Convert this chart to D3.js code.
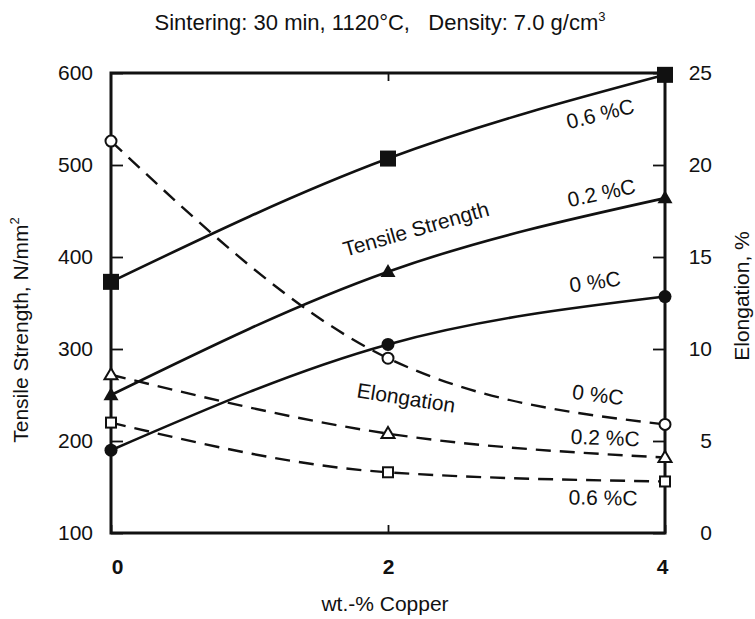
<!DOCTYPE html>
<html>
<head>
<meta charset="utf-8">
<script src="https://cdn.jsdelivr.net/npm/d3@7"></script>
<style>
  html, body { margin: 0; padding: 0; background: #fff; }
  svg { display: block; font-family: "Liberation Sans", Arial, Helvetica, sans-serif; }
  text { fill: #111; }
</style>
</head>
<body>
<svg id="chart" width="755" height="619"></svg>
<script>
// Copper content (wt.-%) on the x axis
const copper = [0, 2, 4];

// Tensile strength, N/mm² (solid lines, filled markers)
const tensile0C  = [190, 305, 357];
const tensile02C = [250, 384, 464];
const tensile06C = [373, 507, 598];

// Elongation, % (dashed lines, open markers)
const elong0C  = [21.3, 9.5, 5.9];
const elong02C = [8.6, 5.4, 4.1];
const elong06C = [6.0, 3.3, 2.8];

// Axis tick values
const strengthTicks = [100, 200, 300, 400, 500, 600];
const elongTicks = [0, 5, 10, 15, 20, 25];
const copperTicks = [0, 2, 4];

const svg = d3.select("#chart");
const plot = { left: 111, right: 665, top: 73, bottom: 533 };

const x  = d3.scaleLinear().domain([0, 4]).range([plot.left, plot.right]);
const yL = d3.scaleLinear().domain([100, 600]).range([plot.bottom, plot.top]);
const yR = d3.scaleLinear().domain([0, 25]).range([plot.bottom, plot.top]);

const ink = "#111";
const fontFamily = "\"Liberation Sans\", Arial, sans-serif";

// Title
const title = svg.append("text")
  .attr("x", 380).attr("y", 30)
  .attr("text-anchor", "middle")
  .style("font-size", "22px");
title.append("tspan").text("Sintering: 30 min, 1120°C,\u00a0\u00a0\u00a0Density: 7.0 g/cm");
title.append("tspan").attr("dy", -9).style("font-size", "13px").text("3");

// Axes (ticks point inward, frame drawn separately)
const leftAxis = d3.axisLeft(yL).tickValues(strengthTicks).tickSize(-12).tickPadding(18).tickFormat(d3.format("d"));
const gL = svg.append("g").attr("transform", `translate(${plot.left},0)`).call(leftAxis);

const rightAxis = d3.axisRight(yR).tickValues(elongTicks).tickSize(-12).tickPadding(47).tickFormat(d3.format("d"));
const gR = svg.append("g").attr("transform", `translate(${plot.right},0)`).call(rightAxis);
gR.selectAll("text").attr("text-anchor", "end");

const bottomAxis = d3.axisBottom(x).tickValues(copperTicks).tickSize(-8).tickPadding(26).tickFormat(d3.format("d"));
const gB = svg.append("g").attr("transform", `translate(0,${plot.bottom})`).call(bottomAxis);
gB.selectAll("text").style("font-weight", "bold")
  .attr("dx", d => d === 0 ? 6 : d === 4 ? -3 : 0);

const topAxis = d3.axisTop(x).tickValues([2]).tickSize(-8).tickFormat(() => "");
const gT = svg.append("g").attr("transform", `translate(0,${plot.top})`).call(topAxis);

[gL, gR, gB, gT].forEach(g => {
  g.select(".domain").remove();
  g.selectAll(".tick line").attr("stroke", ink).attr("stroke-width", 1.8);
  g.selectAll(".tick text").attr("fill", ink).style("font-size", "21px").style("font-family", fontFamily);
});

// Plot frame
svg.append("rect")
  .attr("x", plot.left).attr("y", plot.top)
  .attr("width", plot.right - plot.left).attr("height", plot.bottom - plot.top)
  .attr("fill", "none").attr("stroke", ink).attr("stroke-width", 3);

// Axis titles
const yTitle = svg.append("text")
  .attr("transform", `translate(28,330) rotate(-90)`)
  .attr("text-anchor", "middle")
  .style("font-size", "21px");
yTitle.append("tspan").text("Tensile Strength,  N/mm");
yTitle.append("tspan").attr("dy", -9).style("font-size", "13px").text("2");

svg.append("text")
  .attr("transform", `translate(749,296) rotate(-90)`)
  .attr("text-anchor", "middle")
  .style("font-size", "21px")
  .text("Elongation, %");

svg.append("text")
  .attr("x", 385).attr("y", 611)
  .attr("text-anchor", "middle")
  .style("font-size", "21px")
  .text("wt.-% Copper");

// Series: strength curves as natural splines, elongation curves monotone
const lineL = d3.line().x((d, i) => x(copper[i])).y(d => yL(d)).curve(d3.curveNatural);
const lineR = d3.line().x((d, i) => x(copper[i])).y(d => yR(d)).curve(d3.curveMonotoneX);

const strengthSeries = [
  { values: tensile06C, marker: "square" },
  { values: tensile02C, marker: "triangle" },
  { values: tensile0C,  marker: "circle" }
];
const elongSeries = [
  { values: elong0C,  marker: "circle" },
  { values: elong02C, marker: "triangle" },
  { values: elong06C, marker: "square" }
];

elongSeries.forEach(s => {
  svg.append("path").attr("d", lineR(s.values))
    .attr("fill", "none").attr("stroke", ink).attr("stroke-width", 2.4)
    .attr("stroke-dasharray", "15,9");
});
strengthSeries.forEach(s => {
  svg.append("path").attr("d", lineL(s.values))
    .attr("fill", "none").attr("stroke", ink).attr("stroke-width", 2.6);
});

function drawMarker(type, cx, cy, filled) {
  const g = svg.append("g").attr("transform", `translate(${cx},${cy})`);
  const fill = filled ? ink : "#fff";
  const sw = filled ? 0 : 2;
  if (type === "square") {
    const s = filled ? 16 : 10;
    g.append("rect").attr("x", -s / 2).attr("y", -s / 2).attr("width", s).attr("height", s)
      .attr("fill", fill).attr("stroke", ink).attr("stroke-width", sw);
  } else if (type === "triangle") {
    const w = filled ? 15 : 13, h = filled ? 13 : 11;
    g.append("path").attr("d", `M0,${-h * 0.6}L${w / 2},${h * 0.4}L${-w / 2},${h * 0.4}Z`)
      .attr("fill", fill).attr("stroke", ink).attr("stroke-width", sw);
  } else {
    const r = filled ? 6.5 : 5.5;
    g.append("circle").attr("r", r)
      .attr("fill", fill).attr("stroke", ink).attr("stroke-width", sw);
  }
}

elongSeries.forEach(s => s.values.forEach((v, i) => drawMarker(s.marker, x(copper[i]), yR(v), false)));
strengthSeries.forEach(s => s.values.forEach((v, i) => drawMarker(s.marker, x(copper[i]), yL(v), true)));

// In-plot annotations
const notes = [
  { t: "Tensile Strength", x: 418, y: 236, r: -16 },
  { t: "Elongation",       x: 405, y: 405, r: 9 },
  { t: "0.6 %C", x: 602, y: 121, r: -14 },
  { t: "0.2 %C", x: 603, y: 200, r: -12 },
  { t: "0 %C",   x: 596, y: 289, r: -8 },
  { t: "0 %C",   x: 597, y: 402, r: 7 },
  { t: "0.2 %C", x: 605, y: 445, r: 2 },
  { t: "0.6 %C", x: 603, y: 505, r: 1 }
];
notes.forEach(n => {
  svg.append("text")
    .attr("transform", `translate(${n.x},${n.y}) rotate(${n.r})`)
    .attr("text-anchor", "middle")
    .style("font-size", "21px")
    .text(n.t);
});
</script>
</body>
</html>
